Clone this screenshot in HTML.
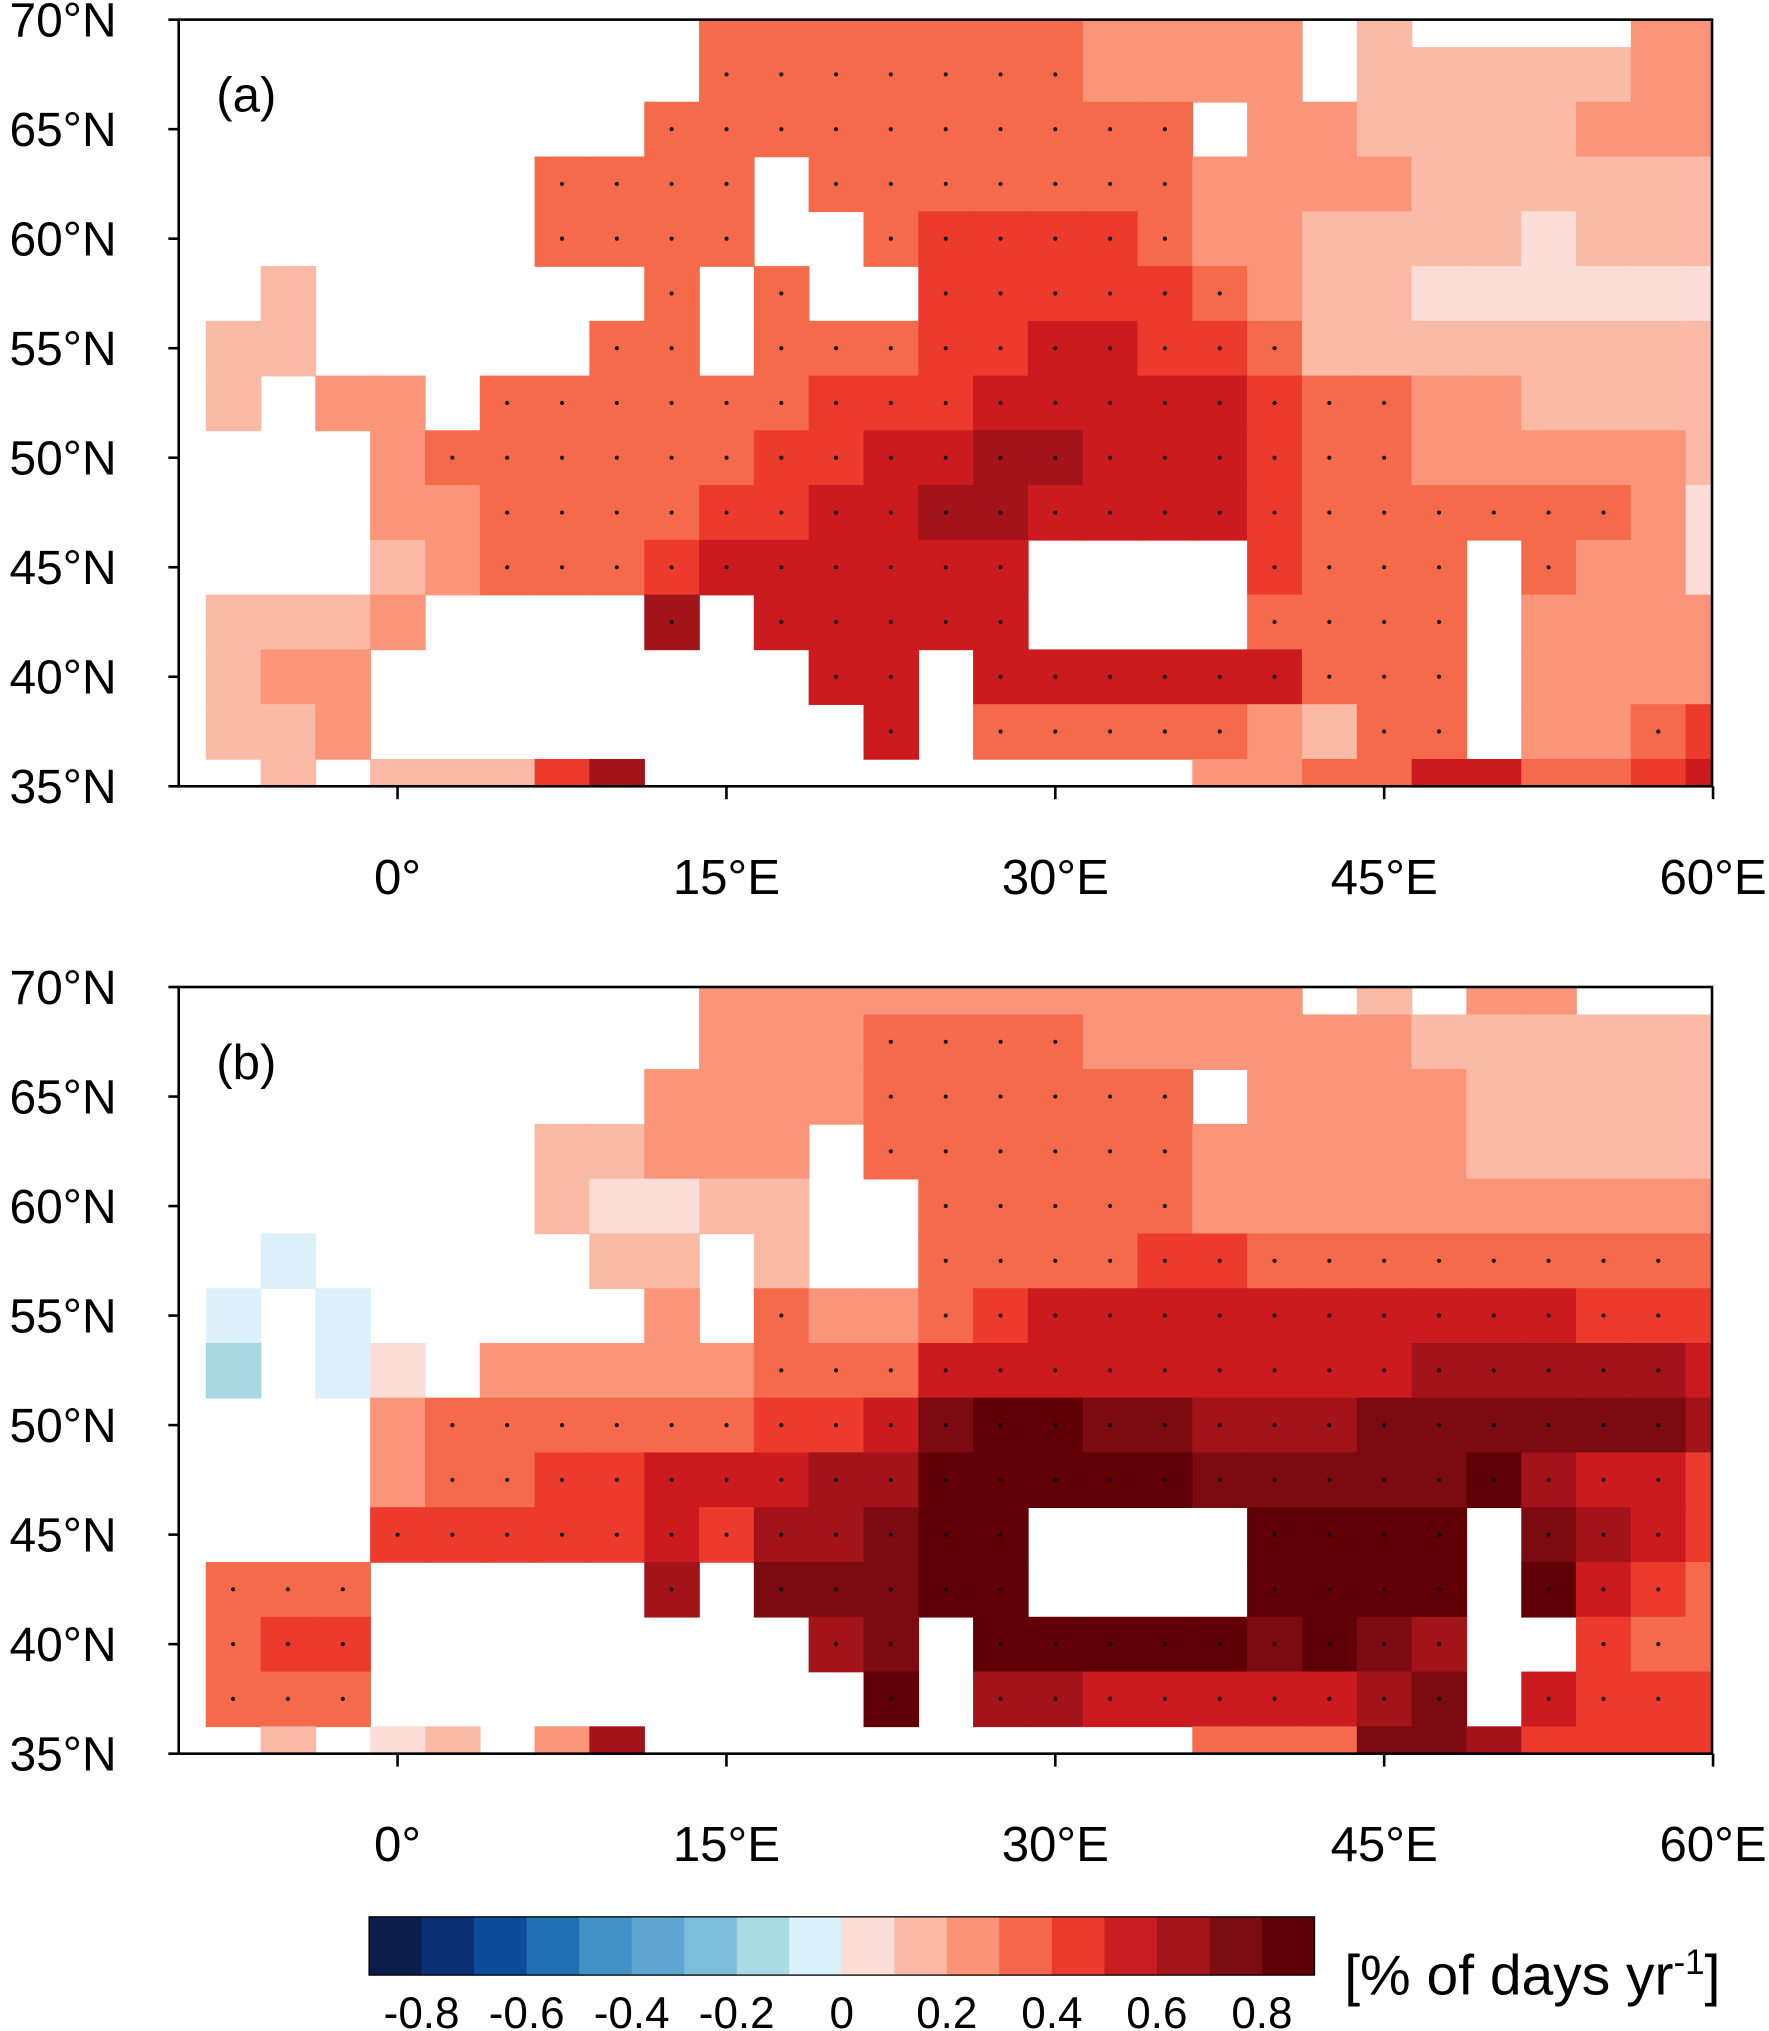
<!DOCTYPE html>
<html><head><meta charset="utf-8"><style>
html,body{margin:0;padding:0;background:#fff}
svg{display:block}
text{font-family:"Liberation Sans",sans-serif;fill:#000}
</style></head><body>
<svg id="s" width="1769" height="2031" viewBox="0 0 1366 1568" xmlns="http://www.w3.org/2000/svg"></svg>
<script>
var C={A:"#fcddd7",B:"#fbbaa6",C:"#fb957a",D:"#f66a4c",E:"#ec3b2d",F:"#cb1b1f",G:"#a3131a",H:"#7b0b10",I:"#600006",
a:"#dcf1fa",b:"#a7d8e2",c:"#7abedc"};
var A=[
".........DDDDDDDCCCC.B....CC",
".........DDDDDDDCCCC.BBBBBCC",
"........DDDDDDDDDD.CCBBBBCCC",
"......DDDD.DDDDDDDCCCCBBBBBB",
"......DDDD..DEEEEDCCBBBBABBB",
".B......D.D..EEEEEDCBBAAAAAA",
"BB.....DD.DDDEEFFEEDBBBBBBBB",
"B.CC.DDDDDDEEEFFFFFEDDCCBBBB",
"...CDDDDDDEEFFGGFFFEDDCCCCCB",
"...CCDDDDEEFFGGFFFFEDDDDDDCA",
"...BCDDDEFFFFFF....EDDD.DCCA",
"BBBC....G.FFFFF....DDDD.CCCC",
"BCC........FF.FFFFFFDDD.CCCC",
"BBC.........F.DDDDDCBDD.CCDE",
".B.BBBEG..........CCDDFFDDEF"];
var B=[
".........CCCCCCCCCCC.B.CC...",
".........CCCDDDDCCCCCCBBBBBB",
"........CCCCDDDDDD.CCCCBBBBB",
"......BBCCC.DDDDDDCCCCCBBBBB",
"......BAABB..DDDDDCCCCCCCCCC",
".a.....BB.B..DDDDEEDDDDDDDDD",
"a.a.....C.DCCDEFFFFFFFFFFEEE",
"b.aA.CCCCCDDDFFFFFFFFFGGGGGF",
"...CDDDDDDEEFHIIHHGGGHHHHHHG",
"...CDDEEFFFGGIIIIIHHHHHIGFFE",
"...EEEEEFEGGHII....IIII.HGFE",
"DDD.....G.HHHII....IIII.IFED",
"DEE........GH.IIIIIHIHG..EDD",
"DDD.........I.GGFFFFFGH.FEEE",
".B.AB CG..........DDDHHGEEEE"];
var s=document.getElementById('s'),h='';
function lonx(l){return 307+l*16.93}
function laty(l,y0){return y0+592-(l-35)*16.914}
function panel(M,y0,lab){
 var x0=138,x1=1322,yb=y0+592;
 for(var r=0;r<15;r++){var lat=70-2.5*r;
  for(var c=0;c<28;c++){var k=M[r][c];if(!C[k])continue;var lon=-7.5+2.5*c;
   var xa=Math.max(x0,lonx(lon-1.25)),xb=Math.min(x1,lonx(lon+1.25));
   var ya=Math.max(y0,laty(lat+1.25,y0)),yb2=Math.min(yb,laty(lat-1.25,y0));
   h+='<rect x="'+xa.toFixed(1)+'" y="'+ya.toFixed(1)+'" width="'+(xb-xa+0.6).toFixed(1)+'" height="'+(yb2-ya+0.6).toFixed(1)+'" fill="'+C[k]+'"/>';
   if("DEFGHI".indexOf(k)>=0 && lat<70 && lat>35 && lon<60)h+='<circle cx="'+lonx(lon).toFixed(1)+'" cy="'+laty(lat,y0).toFixed(1)+'" r="1.6" fill="#111"/>';
  }}
 h+='<rect x="'+x0+'" y="'+y0+'" width="'+(x1-x0)+'" height="592" fill="none" stroke="#000" stroke-width="2"/>';
 for(var i=0;i<8;i++){var la=70-5*i,y=laty(la,y0);
  h+='<line x1="'+(x0-8)+'" y1="'+y+'" x2="'+x0+'" y2="'+y+'" stroke="#000" stroke-width="2"/>';
  h+='<text x="90" y="'+(y+13)+'" font-size="37" text-anchor="end">'+la+'°N</text>';}
 var L=[[0,"0°"],[15,"15°E"],[30,"30°E"],[45,"45°E"],[60,"60°E"]];
 L.forEach(function(p){var x=lonx(p[0]);
  h+='<line x1="'+x+'" y1="'+yb+'" x2="'+x+'" y2="'+(yb+10)+'" stroke="#000" stroke-width="2"/>';
  h+='<text x="'+x+'" y="'+(y0+675)+'" font-size="38" text-anchor="middle">'+p[1]+'</text>';});
 h+='<text x="167" y="'+(y0+71)+'" font-size="38">'+lab+'</text>';
}
panel(A,15,"(a)");panel(B,762,"(b)");
var cb=["#0a1d4b","#0c2f72","#0b4b98","#2171b4","#4391c6","#5fa5d1","#7bbddb","#a8dbe3","#dbf1fa","#fcded8","#fbb9a6","#fb9476","#f6684b","#ea3b2e","#ca1d21","#a3141b","#7c0d12","#5f0006"];
var w=(1015-285)/18;
cb.forEach(function(c,i){h+='<rect x="'+(285+i*w)+'" y="1480" width="'+(w+0.5)+'" height="45" fill="'+c+'"/>';});
h+='<rect x="285" y="1480" width="730" height="45" fill="none" stroke="#000" stroke-width="1"/>';
var lb=["-0.8","-0.6","-0.4","-0.2","0","0.2","0.4","0.6","0.8"];
lb.forEach(function(t,i){h+='<text x="'+(285+w*(1+2*i))+'" y="1566" font-size="34" text-anchor="middle">'+t+'</text>';});
h+='<text x="1038" y="1540" font-size="44">[% of days yr<tspan dy="-16" font-size="27">-1</tspan><tspan dy="16">]</tspan></text>';
s.innerHTML=h;
</script>
</body></html>
